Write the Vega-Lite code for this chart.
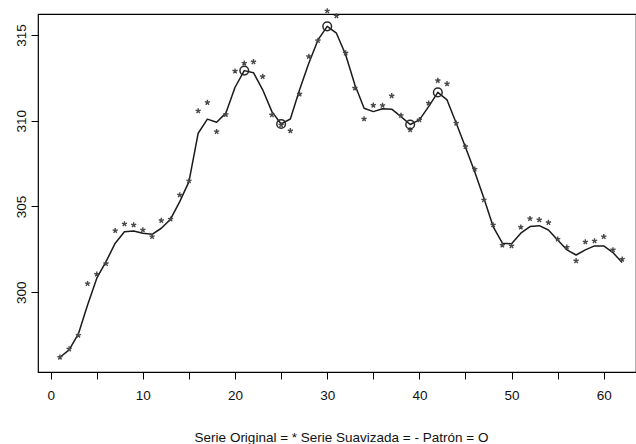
{
  "$schema": "https://vega.github.io/schema/vega-lite/v6.json",
  "autosize": "none",
  "width": 598,
  "height": 358,
  "padding": {"left": 38, "top": 14, "right": 0, "bottom": 72},
  "background": "white",
  "config": {
    "view": {"stroke": "#000", "strokeWidth": 1.2},
    "font": "Liberation Sans",
    "axis": {
      "grid": false,
      "domain": false,
      "tickColor": "#000",
      "tickWidth": 1,
      "tickSize": 7,
      "labelColor": "#111",
      "labelFontSize": 13.5,
      "labelFont": "Liberation Sans",
      "titleFont": "Liberation Sans"
    }
  },
  "data": {
    "values": [
      {"t": 1, "original": 296.21, "suavizada": 296.21, "patron": false},
      {"t": 2, "original": 296.69, "suavizada": 296.64, "patron": false},
      {"t": 3, "original": 297.49, "suavizada": 297.57, "patron": false},
      {"t": 4, "original": 300.50, "suavizada": 299.26, "patron": false},
      {"t": 5, "original": 301.05, "suavizada": 300.82, "patron": false},
      {"t": 6, "original": 301.67, "suavizada": 301.78, "patron": false},
      {"t": 7, "original": 303.59, "suavizada": 302.86, "patron": false},
      {"t": 8, "original": 303.98, "suavizada": 303.53, "patron": false},
      {"t": 9, "original": 303.92, "suavizada": 303.57, "patron": false},
      {"t": 10, "original": 303.63, "suavizada": 303.44, "patron": false},
      {"t": 11, "original": 303.24, "suavizada": 303.38, "patron": false},
      {"t": 12, "original": 304.18, "suavizada": 303.73, "patron": false},
      {"t": 13, "original": 304.26, "suavizada": 304.26, "patron": false},
      {"t": 14, "original": 305.67, "suavizada": 305.28, "patron": false},
      {"t": 15, "original": 306.49, "suavizada": 306.45, "patron": false},
      {"t": 16, "original": 310.57, "suavizada": 309.27, "patron": false},
      {"t": 17, "original": 311.06, "suavizada": 310.09, "patron": false},
      {"t": 18, "original": 309.36, "suavizada": 309.91, "patron": false},
      {"t": 19, "original": 310.36, "suavizada": 310.44, "patron": false},
      {"t": 20, "original": 312.89, "suavizada": 311.95, "patron": false},
      {"t": 21, "original": 313.35, "suavizada": 312.92, "patron": true},
      {"t": 22, "original": 313.43, "suavizada": 312.80, "patron": false},
      {"t": 23, "original": 312.57, "suavizada": 311.80, "patron": false},
      {"t": 24, "original": 310.34, "suavizada": 310.53, "patron": false},
      {"t": 25, "original": 309.75, "suavizada": 309.81, "patron": true},
      {"t": 26, "original": 309.41, "suavizada": 310.10, "patron": false},
      {"t": 27, "original": 311.55, "suavizada": 311.80, "patron": false},
      {"t": 28, "original": 313.74, "suavizada": 313.35, "patron": false},
      {"t": 29, "original": 314.67, "suavizada": 314.71, "patron": false},
      {"t": 30, "original": 316.40, "suavizada": 315.50, "patron": true},
      {"t": 31, "original": 316.11, "suavizada": 315.10, "patron": false},
      {"t": 32, "original": 313.94, "suavizada": 313.84, "patron": false},
      {"t": 33, "original": 311.90, "suavizada": 312.09, "patron": false},
      {"t": 34, "original": 310.10, "suavizada": 310.73, "patron": false},
      {"t": 35, "original": 310.90, "suavizada": 310.53, "patron": false},
      {"t": 36, "original": 310.89, "suavizada": 310.70, "patron": false},
      {"t": 37, "original": 311.45, "suavizada": 310.67, "patron": false},
      {"t": 38, "original": 310.30, "suavizada": 310.24, "patron": false},
      {"t": 39, "original": 309.46, "suavizada": 309.78, "patron": true},
      {"t": 40, "original": 310.05, "suavizada": 310.05, "patron": false},
      {"t": 41, "original": 311.02, "suavizada": 310.82, "patron": false},
      {"t": 42, "original": 312.34, "suavizada": 311.65, "patron": true},
      {"t": 43, "original": 312.15, "suavizada": 311.21, "patron": false},
      {"t": 44, "original": 309.85, "suavizada": 309.85, "patron": false},
      {"t": 45, "original": 308.49, "suavizada": 308.45, "patron": false},
      {"t": 46, "original": 307.17, "suavizada": 307.03, "patron": false},
      {"t": 47, "original": 305.38, "suavizada": 305.48, "patron": false},
      {"t": 48, "original": 303.92, "suavizada": 303.83, "patron": false},
      {"t": 49, "original": 302.74, "suavizada": 302.86, "patron": false},
      {"t": 50, "original": 302.70, "suavizada": 302.82, "patron": false},
      {"t": 51, "original": 303.79, "suavizada": 303.44, "patron": false},
      {"t": 52, "original": 304.29, "suavizada": 303.83, "patron": false},
      {"t": 53, "original": 304.22, "suavizada": 303.88, "patron": false},
      {"t": 54, "original": 304.06, "suavizada": 303.63, "patron": false},
      {"t": 55, "original": 303.09, "suavizada": 303.05, "patron": false},
      {"t": 56, "original": 302.62, "suavizada": 302.47, "patron": false},
      {"t": 57, "original": 301.83, "suavizada": 302.17, "patron": false},
      {"t": 58, "original": 302.93, "suavizada": 302.47, "patron": false},
      {"t": 59, "original": 302.99, "suavizada": 302.70, "patron": false},
      {"t": 60, "original": 303.24, "suavizada": 302.70, "patron": false},
      {"t": 61, "original": 302.47, "suavizada": 302.31, "patron": false},
      {"t": 62, "original": 301.92, "suavizada": 301.73, "patron": false}
    ]
  },
  "encoding": {
    "x": {
      "field": "t",
      "type": "quantitative",
      "scale": {"domain": [-1.378, 63.5], "nice": false, "zero": false},
      "axis": {
        "values": [0, 5, 10, 15, 20, 25, 30, 35, 40, 45, 50, 55, 60],
        "labelExpr": "datum.value % 10 === 0 ? datum.label : ''",
        "labelBaseline": "alphabetic",
        "labelPadding": 20,
        "labelAlign": "center",
        "title": "Serie Original = * Serie Suavizada = - Patrón = O",
        "titleFontSize": 13.5,
        "titleFontWeight": "normal",
        "titleColor": "#111",
        "titleBaseline": "alphabetic",
        "titleAlign": "center",
        "titleAnchor": "start",
        "titleX": 303,
        "titleY": 69
      }
    }
  },
  "layer": [
    {
      "mark": {"type": "line", "color": "#1a1a1a", "strokeWidth": 1.5, "strokeJoin": "round", "clip": false},
      "encoding": {
        "y": {
          "field": "suavizada",
          "type": "quantitative",
          "scale": {"domain": [295.35, 316.22], "nice": false, "zero": false},
          "axis": {
            "values": [300, 305, 310, 315],
            "labelAngle": 270,
            "labelAlign": "center",
            "labelBaseline": "alphabetic",
            "labelPadding": 6,
            "title": null
          }
        }
      }
    },
    {
      "mark": {
        "type": "point",
        "shape": "M0,0L0,-1M0,0L0.951,-0.309M0,0L0.588,0.809M0,0L-0.588,0.809M0,0L-0.951,-0.309",
        "size": 30,
        "filled": false,
        "stroke": "#4a4a4a",
        "strokeWidth": 1.4,
        "opacity": 1,
        "clip": false
      },
      "encoding": {
        "y": {"field": "original", "type": "quantitative"}
      }
    },
    {
      "transform": [{"filter": "datum.patron"}],
      "mark": {
        "type": "point",
        "shape": "circle",
        "size": 75,
        "filled": false,
        "stroke": "#2a2a2a",
        "strokeWidth": 1.5,
        "opacity": 1,
        "clip": false
      },
      "encoding": {
        "y": {"field": "suavizada", "type": "quantitative"}
      }
    }
  ]
}
